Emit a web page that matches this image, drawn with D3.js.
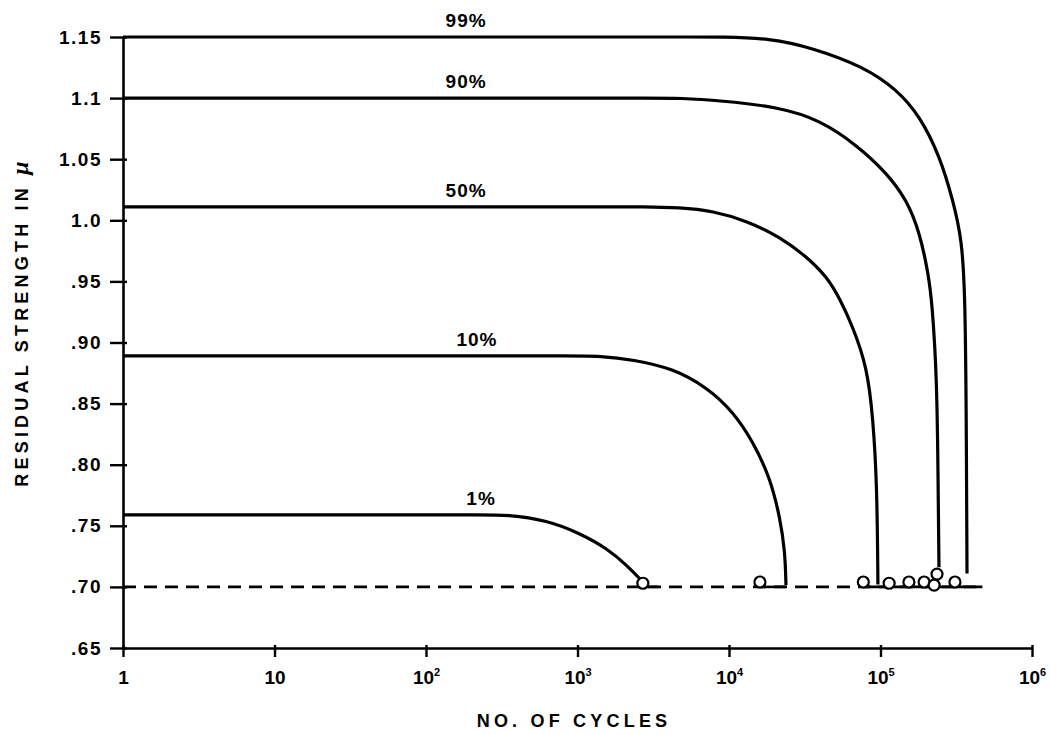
<!DOCTYPE html>
<html>
<head>
<meta charset="utf-8">
<script src="https://cdn.jsdelivr.net/npm/d3@7/dist/d3.min.js"></script>
<style>
  html, body { margin: 0; padding: 0; background: #fff; }
  svg { display: block; }
  text { font-family: "Liberation Sans", Arial, Helvetica, sans-serif; font-weight: bold; fill: #000; }
</style>
</head>
<body>
<svg id="chart" width="1050" height="734"></svg>
<script>
// ---- data ----
const yTicks = [0.65, 0.70, 0.75, 0.80, 0.85, 0.90, 0.95, 1.0, 1.05, 1.1, 1.15];
const yTickLabels = [".65", ".70", ".75", ".80", ".85", ".90", ".95", "1.0", "1.05", "1.1", "1.15"];
const xTicks = [1, 10, 100, 1000, 10000, 100000, 1000000];
const xTickBase = ["1", "10", "10", "10", "10", "10", "10"];
const xTickExp = ["", "", "2", "3", "4", "5", "6"];

const seriesNames = ["99%", "90%", "50%", "10%", "1%"];
const cycles99 = [1, 2000, 6000, 8710, 18620, 35800, 76560, 128500, 182400, 247200, 301300, 345100, 361400, 368000, 372400];
const strength99 = [1.15, 1.15, 1.15, 1.15, 1.149, 1.141, 1.126, 1.107, 1.085, 1.052, 1.016, 0.984, 0.938, 0.85, 0.711];
const cycles90 = [1, 1000, 3000, 4753, 8710, 21730, 39900, 69980, 110400, 149600, 182400, 206100, 218800, 236000, 239900, 243200];
const strength90 = [1.1, 1.1, 1.1, 1.1, 1.098, 1.0926, 1.082, 1.0615, 1.0385, 1.0164, 0.989, 0.957, 0.934, 0.869, 0.787, 0.716];
const cycles50 = [1, 500, 1800, 2588, 4753, 7834, 13150, 21730, 32730, 44360, 54050, 65770, 81470, 89130, 94840, 96160];
const strength50 = [1.011, 1.011, 1.011, 1.011, 1.0105, 1.0077, 0.9995, 0.9864, 0.970, 0.9536, 0.9356, 0.9127, 0.880, 0.839, 0.784, 0.702];
const cycles10 = [1, 300, 900, 1409, 2323, 4266, 7161, 10620, 14390, 18660, 21730, 23440, 23770];
const strength10 = [0.889, 0.889, 0.889, 0.889, 0.886, 0.8788, 0.8632, 0.8435, 0.819, 0.7894, 0.7566, 0.7287, 0.7016];
const cycles1 = [1, 100, 230, 343, 630, 1040, 1567, 2123, 2704];
const strength1 = [0.759, 0.759, 0.759, 0.759, 0.7545, 0.7438, 0.7315, 0.7176, 0.704];

const labelCycles = [184, 184, 184, 217, 231];
const labelStrength = [1.15, 1.1, 1.011, 0.889, 0.759];

const failureLevel = 0.70;
const failureLineEnd = 470000;
const solidStart = [2700, 16000, 77000];
const solidEnd = [3400, 23770, 470000];
const failureCycles = [2700, 16000, 77000, 114000, 154000, 194000, 236000, 226000, 310000];
const failureStrength = [0.703, 0.704, 0.704, 0.703, 0.704, 0.704, 0.7105, 0.7015, 0.704];

// ---- layout ----
const svg = d3.select("#chart");
const x = d3.scaleLog().domain([1, 1e6]).range([123, 1032]);
const y = d3.scaleLinear().domain([0.65, 1.15]).range([648, 37]);

// y axis
const yAxis = d3.axisLeft(y).tickValues(yTicks)
  .tickFormat((d, i) => yTickLabels[i]).tickSizeInner(13).tickSizeOuter(0).tickPadding(8);
const gy = svg.append("g").attr("transform", "translate(123,0)").call(yAxis);
gy.select(".domain").attr("stroke", "#000").attr("stroke-width", 2.6);
gy.selectAll(".tick line").attr("stroke", "#000").attr("stroke-width", 2.4).attr("x2", -13).attr("x1", 4);
gy.selectAll(".tick text").attr("font-size", 19).attr("letter-spacing", 1.5).attr("fill", "#000");

// x axis
const xAxis = d3.axisBottom(x).tickValues(xTicks).tickFormat("").tickSizeInner(9).tickSizeOuter(0).tickPadding(14);
const gx = svg.append("g").attr("transform", "translate(0,648)").call(xAxis);
gx.select(".domain").attr("stroke", "#000").attr("stroke-width", 2.6);
gx.selectAll(".tick line").attr("stroke", "#000").attr("stroke-width", 2.4).attr("y1", -3);
gx.selectAll(".tick text").each(function(d, i) {
  const t = d3.select(this).attr("font-size", 19).attr("fill", "#000").attr("dy", null).attr("y", 36);
  t.text(null);
  t.append("tspan").text(xTickBase[i]);
  if (xTickExp[i]) t.append("tspan").attr("font-size", 11).attr("dy", -8).text(xTickExp[i]);
});

// axis titles
svg.append("text")
  .attr("x", 574).attr("y", 727).attr("text-anchor", "middle")
  .attr("font-size", 18).attr("letter-spacing", 4.2)
  .text("NO. OF CYCLES");
const yt = svg.append("text")
  .attr("transform", "translate(28,322) rotate(-90)").attr("text-anchor", "middle")
  .attr("font-size", 18).attr("letter-spacing", 4.2);
yt.append("tspan").text("RESIDUAL STRENGTH IN ");
yt.append("tspan").attr("font-style", "italic").attr("font-size", 24).attr("font-family", "'Liberation Serif', serif").text("\u03BC");

// failure line
svg.append("line")
  .attr("x1", x(1)).attr("x2", x(failureLineEnd))
  .attr("y1", y(failureLevel)).attr("y2", y(failureLevel))
  .attr("stroke", "#000").attr("stroke-width", 2.6).attr("stroke-dasharray", "13,8");
solidStart.forEach((s, i) => {
  svg.append("line")
    .attr("x1", x(s)).attr("x2", x(solidEnd[i]))
    .attr("y1", y(failureLevel)).attr("y2", y(failureLevel))
    .attr("stroke", "#000").attr("stroke-width", 2.6);
});

// curves
const seriesCycles = [cycles99, cycles90, cycles50, cycles10, cycles1];
const seriesStrength = [strength99, strength90, strength50, strength10, strength1];
const line = d3.line().x(d => x(d[0])).y(d => y(d[1])).curve(d3.curveBasis);
seriesNames.forEach((name, i) => {
  const pts = seriesCycles[i].map((c, j) => [c, seriesStrength[i][j]]);
  svg.append("path").attr("d", line(pts)).attr("fill", "none")
    .attr("stroke", "#000").attr("stroke-width", 3.2).attr("stroke-linejoin", "round");
  svg.append("text")
    .attr("x", x(labelCycles[i])).attr("y", y(labelStrength[i]) - 10)
    .attr("text-anchor", "middle").attr("font-size", 19).attr("letter-spacing", 1)
    .text(name);
});

// failure points
svg.selectAll("circle.fail").data(failureCycles).join("circle")
  .attr("class", "fail")
  .attr("cx", d => x(d)).attr("cy", (d, i) => y(failureStrength[i]))
  .attr("r", 5.5).attr("fill", "#fff").attr("stroke", "#000").attr("stroke-width", 2.2);
</script>
</body>
</html>
